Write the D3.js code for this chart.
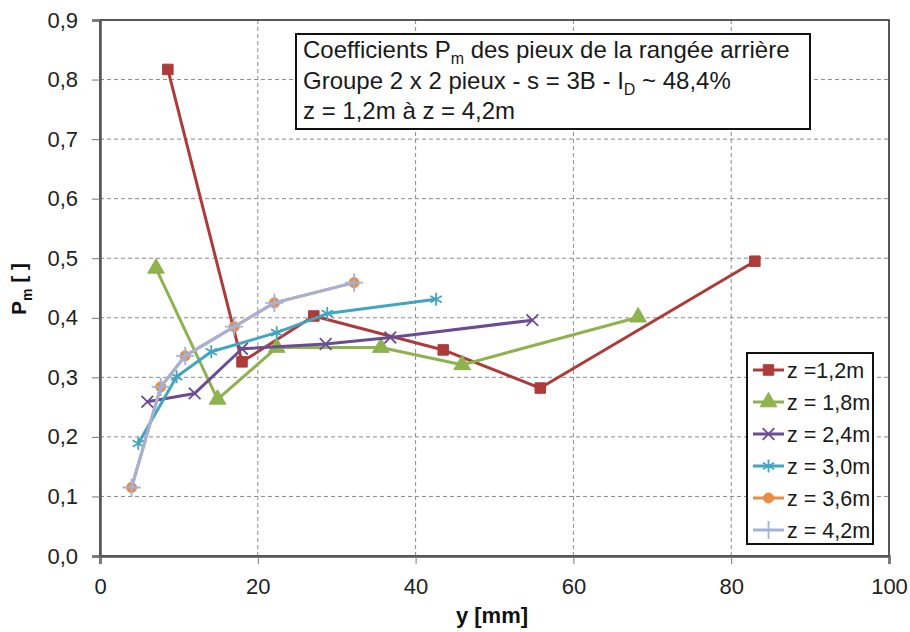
<!DOCTYPE html>
<html><head><meta charset="utf-8">
<script src="https://cdn.jsdelivr.net/npm/d3@7"></script>
<style>
html,body{margin:0;padding:0;background:#fff;}
svg{display:block;font-family:"Liberation Sans",Arial,sans-serif;}
</style></head>
<body><svg id="c" width="910" height="632"></svg>
<script>
// ---- data ----
const seriesNames = ["z =1,2m","z = 1,8m","z = 2,4m","z = 3,0m","z = 3,6m","z = 4,2m"];
const x_z12 = [8.6, 18.0, 27.1, 43.5, 55.8, 83.0];
const y_z12 = [0.817, 0.326, 0.403, 0.346, 0.282, 0.495];
const x_z18 = [7.1, 14.9, 22.4, 35.6, 45.9, 68.2];
const y_z18 = [0.483, 0.263, 0.350, 0.350, 0.321, 0.401];
const x_z24 = [6.0, 12.0, 18.0, 28.6, 36.8, 54.8];
const y_z24 = [0.259, 0.273, 0.348, 0.356, 0.367, 0.396];
const x_z30 = [4.85, 9.7, 14.1, 22.4, 28.8, 42.6];
const y_z30 = [0.189, 0.301, 0.343, 0.375, 0.407, 0.431];
const x_z36 = [4.0, 7.7, 10.8, 17.0, 22.1, 32.2];
const y_z36 = [0.115, 0.284, 0.336, 0.385, 0.425, 0.459];
const x_z42 = [4.0, 7.7, 10.8, 17.0, 22.1, 32.2];
const y_z42 = [0.115, 0.284, 0.336, 0.385, 0.425, 0.459];
const xTicks = [0, 20, 40, 60, 80, 100];
const yTicks = [0, 0.1, 0.2, 0.3, 0.4, 0.5, 0.6, 0.7, 0.8, 0.9];
const titleLines = [
  [["Coefficients P",""],["m","sub"],[" des pieux de la rangée arrière",""]],
  [["Groupe 2 x 2 pieux - s = 3B - I",""],["D","sub"],[" ~ 48,4%",""]],
  [["z = 1,2m à z = 4,2m",""]]
];
const xLabel = "y [mm]";

// ---- styles ----
const colors = ["#AD3B39","#8DB24E","#6B4C93","#43A5BF","#E98C45","#A2B2D8"];
const symTypes = [d3.symbolSquare, d3.symbolTriangle, d3.symbolTimes, d3.symbolAsterisk, d3.symbolCircle, d3.symbolPlus];
const symSizes = [110, 120, 90, 120, 80, 110];
const symFilled = [true, true, false, false, true, false];

const series = [
  {x:x_z12,y:y_z12},{x:x_z18,y:y_z18},{x:x_z24,y:y_z24},
  {x:x_z30,y:y_z30},{x:x_z36,y:y_z36},{x:x_z42,y:y_z42}
].map((s,i)=>({name:seriesNames[i], pts:s.x.map((v,j)=>[v,s.y[j]])}));

const svg = d3.select("#c");
const L=100, R=889, T=20, B=556;
const xs = d3.scaleLinear().domain([0,100]).range([L,R]);
const ys = d3.scaleLinear().domain([0,0.9]).range([B,T]);
const fmt = d => d3.format(".1f")(d).replace(".",",");

// gridlines
svg.append("g").selectAll("line").data(yTicks.slice(1,-1)).join("line")
  .attr("x1",L).attr("x2",R).attr("y1",d=>ys(d)).attr("y2",d=>ys(d))
  .attr("stroke","#8a8a8a").attr("stroke-width",1).attr("stroke-dasharray","4,3");
svg.append("g").selectAll("line").data(xTicks.slice(1,-1)).join("line")
  .attr("y1",T).attr("y2",B).attr("x1",d=>xs(d)).attr("x2",d=>xs(d))
  .attr("stroke","#8a8a8a").attr("stroke-width",1).attr("stroke-dasharray","4,3");

// plot border
svg.append("rect").attr("x",L).attr("y",T).attr("width",R-L).attr("height",B-T)
  .attr("fill","none").attr("stroke","#222").attr("stroke-width",1.5);

// axes
const yAxis = d3.axisLeft(ys).tickValues(yTicks).tickFormat(fmt).tickSize(8).tickPadding(14);
const gy = svg.append("g").attr("transform",`translate(${L},0)`).call(yAxis);
const xAxis = d3.axisBottom(xs).tickValues(xTicks).tickFormat(d3.format("d")).tickSize(8).tickPadding(14);
const gx = svg.append("g").attr("transform",`translate(0,${B})`).call(xAxis);
[gy,gx].forEach(g=>{
  g.select(".domain").attr("stroke","#555").attr("stroke-width",2.5);
  g.selectAll(".tick line").attr("stroke","#777");
  g.selectAll(".tick text").attr("fill","#222").style("font-size","22px")
   .style("font-family","'Liberation Sans',Arial,sans-serif");
});

// series
const line = d3.line().x(d=>xs(d[0])).y(d=>ys(d[1]));
series.forEach((s,i)=>{
  const g = svg.append("g");
  g.append("path").attr("d",line(s.pts)).attr("fill","none")
    .attr("stroke",colors[i]).attr("stroke-width",3).attr("stroke-linejoin","round");
  g.selectAll("path.m").data(s.pts).join("path").attr("class","m")
    .attr("transform",d=>`translate(${xs(d[0])},${ys(d[1])})`)
    .attr("d",d3.symbol().type(symTypes[i]).size(symSizes[i]))
    .attr("fill",symFilled[i]?colors[i]:"none")
    .attr("stroke",colors[i]).attr("stroke-width",symFilled[i]?1:1.8);
});

// title box
const tb = svg.append("g");
tb.append("rect").attr("x",296).attr("y",34).attr("width",514).attr("height",95)
  .attr("fill","#fff").attr("stroke","#111").attr("stroke-width",2);
titleLines.forEach((ln,k)=>{
  const t = tb.append("text").attr("x",303).attr("y",58+k*30.5)
    .style("font-size","24px").attr("fill","#1a1a1a");
  ln.forEach(([txt,kind])=>{
    if(kind==="sub"){
      t.append("tspan").text(txt).attr("dy",6).style("font-size","16px");
    } else {
      const ts = t.append("tspan").text(txt);
      if(t.selectAll("tspan").size()>1) ts.attr("dy",-6);
    }
  });
});

// legend
const lg = svg.append("g");
lg.append("rect").attr("x",747).attr("y",353).attr("width",126).attr("height",191)
  .attr("fill","#fff").attr("stroke","#111").attr("stroke-width",2);
series.forEach((s,i)=>{
  const cy = 370 + i*32;
  lg.append("line").attr("x1",753).attr("x2",784).attr("y1",cy).attr("y2",cy)
    .attr("stroke",colors[i]).attr("stroke-width",3);
  lg.append("path").attr("transform",`translate(768.5,${cy})`)
    .attr("d",d3.symbol().type(symTypes[i]).size(symSizes[i]))
    .attr("fill",symFilled[i]?colors[i]:"none")
    .attr("stroke",colors[i]).attr("stroke-width",symFilled[i]?1:1.8);
  lg.append("text").attr("x",787).attr("y",cy+7.5).text(s.name)
    .style("font-size","21.5px").attr("fill","#1a1a1a");
});

// axis titles
svg.append("text").attr("x",492).attr("y",623).attr("text-anchor","middle")
  .style("font-size","22px").style("font-weight","bold").attr("fill","#111").text(xLabel);
const yl = svg.append("text").attr("transform","translate(26,289) rotate(-90)")
  .attr("text-anchor","middle").style("font-size","21px").style("font-weight","bold").attr("fill","#111");
yl.append("tspan").text("P");
yl.append("tspan").text("m").attr("dy",6).style("font-size","14px");
yl.append("tspan").text(" [ ]").attr("dy",-6);
</script></body></html>
